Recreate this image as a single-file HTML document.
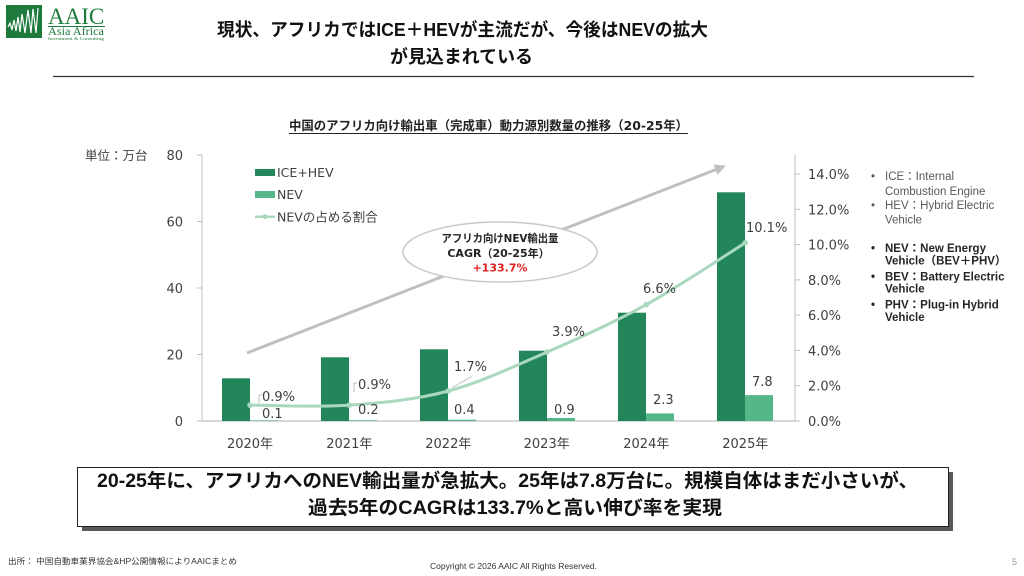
<!DOCTYPE html>
<html>
<head>
<meta charset="utf-8">
<style>
  html,body{margin:0;padding:0;background:#fff;}
  body{width:1024px;height:576px;overflow:hidden;}
  svg{display:block;}
  .jp{font-family:"Liberation Sans","Noto Sans CJK JP",sans-serif;}
  .dv{font-family:"DejaVu Sans","Noto Sans CJK JP",sans-serif;}
</style>
</head>
<body>
<svg width="1024" height="576" viewBox="0 0 1024 576" xmlns="http://www.w3.org/2000/svg">
  <rect x="0" y="0" width="1024" height="576" fill="#ffffff"/>

  <!-- Logo -->
  <rect x="6" y="5" width="36" height="33" fill="#1d7a3c"/>
  <polyline points="8,27 10,23 12,30 14,20 16,31 18,17 20,32 22,14 25,33 28,10 31,33 33,9 36,33 38,8" fill="none" stroke="#ffffff" stroke-width="1.2"/>
  <text x="48" y="24" font-family="Liberation Serif, serif" font-size="23" fill="#1d7a3c">AAIC</text>
  <line x1="48" y1="26.5" x2="105" y2="26.5" stroke="#1d7a3c" stroke-width="1"/>
  <text x="48" y="35" font-family="Liberation Serif, serif" font-size="11.5" fill="#1d7a3c" textLength="56" lengthAdjust="spacingAndGlyphs">Asia Africa</text>
  <text x="48" y="40" font-family="Liberation Serif, serif" font-size="4.5" fill="#1d7a3c" textLength="56" lengthAdjust="spacingAndGlyphs">Investment &amp; Consulting</text>

  <!-- Main title -->
  <text class="jp" x="462.5" y="36" text-anchor="middle" font-size="18" font-weight="bold" fill="#111" textLength="491" lengthAdjust="spacingAndGlyphs">現状、アフリカではICE＋HEVが主流だが、今後はNEVの拡大</text>
  <text class="jp" x="461.5" y="63" text-anchor="middle" font-size="18" font-weight="bold" fill="#111" textLength="143" lengthAdjust="spacingAndGlyphs">が見込まれている</text>
  <line x1="53" y1="76.5" x2="974" y2="76.5" stroke="#333" stroke-width="1.3"/>

  <!-- Chart title -->
  <text class="dv" x="488.5" y="130" text-anchor="middle" font-size="12.5" font-weight="bold" fill="#222" textLength="399" lengthAdjust="spacingAndGlyphs">中国のアフリカ向け輸出車（完成車）動力源別数量の推移（20-25年）</text>
  <line x1="289" y1="133.5" x2="688" y2="133.5" stroke="#222" stroke-width="1"/>

  <!-- Unit label -->
  <text class="dv" x="85" y="160" font-size="12.5" fill="#404040">単位：万台</text>

  <!-- Big arrow -->
  <line x1="247" y1="353" x2="716" y2="169.5" stroke="#c0c0c0" stroke-width="3"/>
  <polygon points="726,165.5 717.5,174.8 713.6,164.6" fill="#c0c0c0"/>

  <!-- Ellipse -->
  <ellipse cx="500" cy="252" rx="97" ry="30" fill="#ffffff" stroke="#c8c8c8" stroke-width="1.5"/>
  <text class="dv" x="500" y="242" text-anchor="middle" font-size="11" font-weight="bold" fill="#222" textLength="117" lengthAdjust="spacingAndGlyphs">アフリカ向けNEV輸出量</text>
  <text class="dv" x="498.5" y="257" text-anchor="middle" font-size="11" font-weight="bold" fill="#222">CAGR（20-25年）</text>
  <text class="dv" x="500" y="271.5" text-anchor="middle" font-size="11" font-weight="bold" fill="#e02020">+133.7%</text>

  <!-- Axes -->
  <line x1="202" y1="155" x2="202" y2="421" stroke="#bfbfbf" stroke-width="1"/>
  <line x1="795" y1="155" x2="795" y2="421" stroke="#bfbfbf" stroke-width="1"/>
  <line x1="202" y1="421" x2="795" y2="421" stroke="#bfbfbf" stroke-width="1.2"/>
  <!-- left ticks -->
  <g stroke="#bfbfbf" stroke-width="1">
    <line x1="197" y1="155" x2="202" y2="155"/>
    <line x1="197" y1="221.5" x2="202" y2="221.5"/>
    <line x1="197" y1="288" x2="202" y2="288"/>
    <line x1="197" y1="354.5" x2="202" y2="354.5"/>
    <line x1="197" y1="421" x2="202" y2="421"/>
    <!-- right ticks -->
    <line x1="795" y1="174" x2="800" y2="174"/>
    <line x1="795" y1="209.3" x2="800" y2="209.3"/>
    <line x1="795" y1="244.6" x2="800" y2="244.6"/>
    <line x1="795" y1="279.9" x2="800" y2="279.9"/>
    <line x1="795" y1="315.1" x2="800" y2="315.1"/>
    <line x1="795" y1="350.4" x2="800" y2="350.4"/>
    <line x1="795" y1="385.7" x2="800" y2="385.7"/>
    <line x1="795" y1="421" x2="800" y2="421"/>
  </g>
  <g class="dv" font-size="13" fill="#404040" text-anchor="end">
    <text x="183" y="160">80</text>
    <text x="183" y="226.5">60</text>
    <text x="183" y="293">40</text>
    <text x="183" y="359.5">20</text>
    <text x="183" y="426">0</text>
  </g>
  <g class="dv" font-size="13" fill="#404040">
    <text x="808" y="179">14.0%</text>
    <text x="808" y="214.3">12.0%</text>
    <text x="808" y="249.6">10.0%</text>
    <text x="808" y="284.9">8.0%</text>
    <text x="808" y="320.1">6.0%</text>
    <text x="808" y="355.4">4.0%</text>
    <text x="808" y="390.7">2.0%</text>
    <text x="808" y="426">0.0%</text>
  </g>

  <!-- Bars ICE+HEV -->
  <g fill="#22865a">
    <rect x="222" y="378.3" width="28" height="42.7"/>
    <rect x="321" y="357.3" width="28" height="63.7"/>
    <rect x="420" y="349.3" width="28" height="71.7"/>
    <rect x="519" y="350.7" width="28" height="70.3"/>
    <rect x="618" y="312.7" width="28" height="108.3"/>
    <rect x="717" y="192.3" width="28" height="228.7"/>
  </g>
  <!-- Bars NEV -->
  <g fill="#55b68a">
    <rect x="250" y="420.4" width="28" height="0.6"/>
    <rect x="349" y="420.3" width="28" height="0.7"/>
    <rect x="448" y="419.7" width="28" height="1.3"/>
    <rect x="547" y="418" width="28" height="3"/>
    <rect x="646" y="413.4" width="28" height="7.6"/>
    <rect x="745" y="395.1" width="28" height="25.9"/>
  </g>

  <!-- NEV share line -->
  <path d="M250,405.1 C266.55,405.1 316.25,407.45 349.3,405.1 C382.35,402.75 415.4,399.82 448.3,391 C481.2,382.18 513.7,366.6 546.7,352.2 C579.7,337.8 613.2,322.83 646.3,304.6 C679.4,286.37 728.8,253.1 745.3,242.8" fill="none" stroke="#a9d8bf" stroke-width="3"/>
  <g fill="#a9d8bf">
    <circle cx="250" cy="405.1" r="2.8"/>
    <circle cx="349.3" cy="405.1" r="2.8"/>
    <circle cx="448.3" cy="391" r="2.8"/>
    <circle cx="546.7" cy="352.2" r="2.8"/>
    <circle cx="646.3" cy="304.6" r="2.8"/>
    <circle cx="745.3" cy="242.8" r="2.8"/>
  </g>

  <!-- leader lines -->
  <g fill="none" stroke="#bfbfbf" stroke-width="1">
    <path d="M262,395 L259,395 L259,403"/>
    <path d="M357,383 L354,383 L354,392"/>
    <path d="M452,388 L471.5,376.5"/>
  </g>

  <!-- Data labels -->
  <g class="dv" font-size="13" fill="#404040">
    <text x="262" y="401">0.9%</text>
    <text x="262" y="418">0.1</text>
    <text x="358" y="389">0.9%</text>
    <text x="358" y="414">0.2</text>
    <text x="454" y="371">1.7%</text>
    <text x="454" y="414">0.4</text>
    <text x="552" y="336">3.9%</text>
    <text x="554" y="414">0.9</text>
    <text x="643" y="293">6.6%</text>
    <text x="653" y="404">2.3</text>
    <text x="746" y="232">10.1%</text>
    <text x="752" y="386">7.8</text>
  </g>

  <!-- X labels -->
  <g class="dv" font-size="13" fill="#404040" text-anchor="middle">
    <text x="250" y="448">2020年</text>
    <text x="349.3" y="448">2021年</text>
    <text x="448.3" y="448">2022年</text>
    <text x="546.7" y="448">2023年</text>
    <text x="646.3" y="448">2024年</text>
    <text x="745.3" y="448">2025年</text>
  </g>

  <!-- Legend -->
  <rect x="255" y="169" width="20" height="7" fill="#22865a"/>
  <text class="dv" x="277" y="177" font-size="12.5" fill="#404040">ICE+HEV</text>
  <rect x="255" y="191" width="20" height="7" fill="#55b68a"/>
  <text class="dv" x="277" y="199" font-size="12.5" fill="#404040">NEV</text>
  <line x1="255" y1="216.7" x2="275" y2="216.7" stroke="#a9d8bf" stroke-width="2.5"/>
  <circle cx="265" cy="216.7" r="2.5" fill="#a9d8bf"/>
  <text class="dv" x="277" y="221.5" font-size="12.5" fill="#404040">NEVの占める割合</text>

  <!-- Right notes -->
  <g class="jp" font-size="11.5" fill="#595959">
    <text x="871" y="180">•</text>
    <text x="885" y="180">ICE：Internal</text>
    <text x="885" y="195">Combustion Engine</text>
    <text x="871" y="209">•</text>
    <text x="885" y="209">HEV：Hybrid Electric</text>
    <text x="885" y="223.5">Vehicle</text>
  </g>
  <g class="jp" font-size="11.5" font-weight="bold" fill="#262626">
    <text x="871" y="252">•</text>
    <text x="885" y="252">NEV：New Energy</text>
    <text x="885" y="264.5">Vehicle（BEV＋PHV）</text>
    <text x="871" y="280.5">•</text>
    <text x="885" y="280.5">BEV：Battery Electric</text>
    <text x="885" y="292.5">Vehicle</text>
    <text x="871" y="308.5">•</text>
    <text x="885" y="308.5">PHV：Plug-in Hybrid</text>
    <text x="885" y="321">Vehicle</text>
  </g>

  <!-- Bottom message box -->
  <rect x="82" y="472" width="871" height="59" fill="#595959"/>
  <rect x="77.5" y="467.5" width="871" height="59" fill="#ffffff" stroke="#222" stroke-width="1"/>
  <text class="jp" x="507.5" y="487" text-anchor="middle" font-size="19" font-weight="bold" fill="#111" textLength="821" lengthAdjust="spacingAndGlyphs">20-25年に、アフリカへのNEV輸出量が急拡大。25年は7.8万台に。規模自体はまだ小さいが、</text>
  <text class="jp" x="515" y="514" text-anchor="middle" font-size="19" font-weight="bold" fill="#111" textLength="414" lengthAdjust="spacingAndGlyphs">過去5年のCAGRは133.7%と高い伸び率を実現</text>

  <!-- Footer -->
  <text class="jp" x="8" y="564" font-size="8" fill="#333" textLength="229" lengthAdjust="spacingAndGlyphs">出所： 中国自動車業界協会&amp;HP公開情報によりAAICまとめ</text>
  <text class="jp" x="430" y="569" font-size="8" fill="#333" textLength="167" lengthAdjust="spacingAndGlyphs">Copyright © 2026 AAIC All Rights Reserved.</text>
  <text class="jp" x="1012" y="565" font-size="9" fill="#999">5</text>
</svg>
</body>
</html>
